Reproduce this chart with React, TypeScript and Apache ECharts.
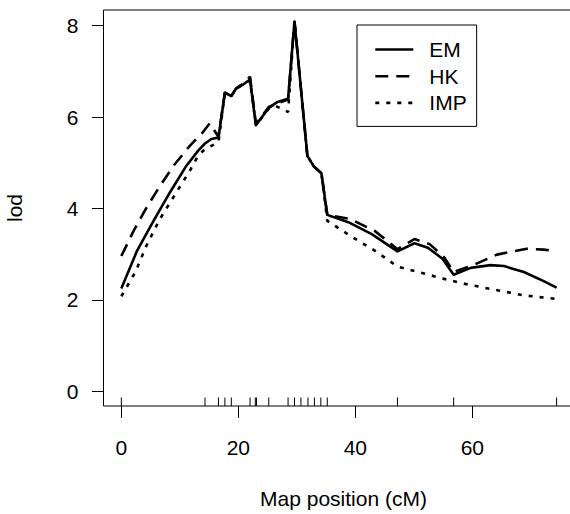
import React, { useEffect, useRef } from "react";
import * as echarts from "echarts";

// marker positions (cM) for the rug
const markerPos = [0, 14.3, 16.6, 17.7, 18.8, 22.0, 22.9, 23.1, 25.2, 28.5, 29.6, 30.7, 31.9, 33.0, 34.1, 35.2, 47.2, 56.8, 74.4];

// EM
const emPos = [0, 2.7, 5.5, 8.3, 11.1, 13.1, 14.3, 15.4, 16.6, 17.7, 18.8, 19.6, 20.7, 22.0, 23.0, 25.2, 26.7, 28.5, 29.6, 31.8, 32.9, 34.2, 35.2, 38.8, 42.8, 47.2, 50.1, 52.4, 54.9, 56.8, 59.7, 63.1, 65.4, 68.8, 72.2, 74.4];
const emLod = [2.25, 3.08, 3.73, 4.35, 4.93, 5.26, 5.42, 5.52, 5.55, 6.53, 6.46, 6.62, 6.70, 6.82, 5.82, 6.20, 6.33, 6.40, 8.09, 5.15, 4.92, 4.77, 3.86, 3.70, 3.44, 3.06, 3.24, 3.14, 2.90, 2.55, 2.70, 2.76, 2.74, 2.61, 2.41, 2.27];

// HK
const hkPos = [0, 2.1, 4.3, 6.6, 8.9, 11.7, 13.9, 15.1, 16.6, 17.7, 18.8, 19.6, 20.7, 22.0, 23.0, 25.2, 26.7, 28.5, 29.6, 31.8, 32.9, 34.2, 35.2, 39.1, 43.3, 47.2, 50.1, 52.7, 55.2, 56.8, 60.3, 64.2, 69.3, 72.2, 74.4];
const hkLod = [2.96, 3.51, 4.02, 4.49, 4.93, 5.37, 5.66, 5.86, 5.57, 6.53, 6.46, 6.62, 6.72, 6.88, 5.85, 6.22, 6.30, 6.38, 8.09, 5.15, 4.92, 4.77, 3.86, 3.77, 3.51, 3.11, 3.33, 3.22, 2.93, 2.61, 2.77, 2.99, 3.12, 3.10, 3.06];

// IMP
const impPos = [0, 2.4, 4.3, 6.6, 9.2, 11.7, 13.1, 14.3, 15.9, 16.6, 17.7, 18.8, 19.6, 20.7, 22.0, 23.0, 25.2, 26.4, 28.5, 29.6, 31.8, 32.9, 34.2, 35.2, 39.4, 43.3, 47.2, 50.7, 55.2, 58.0, 63.1, 68.8, 74.4];
const impLod = [2.08, 2.61, 3.19, 3.77, 4.31, 4.82, 5.15, 5.30, 5.40, 5.45, 6.53, 6.46, 6.62, 6.70, 6.80, 5.82, 6.18, 6.24, 6.11, 8.09, 5.15, 4.92, 4.77, 3.73, 3.38, 3.08, 2.73, 2.61, 2.46, 2.37, 2.24, 2.10, 2.02];

const xTicks = [0, 20, 40, 60];
const yTicks = [0, 2, 4, 6, 8];

const X_MIN = -3.05;
const X_MAX = 79;
const Y_MIN = -0.32;
const Y_MAX = 8.34;

const FONT = "'Liberation Sans', Arial, Helvetica, sans-serif";

const DASH_HK = [13, 8];
const DASH_IMP = [4, 7];

const zip = (xs: number[], ys: number[]) => xs.map((x, i) => [x, ys[i]]);

export default function App() {
  const ref = useRef<HTMLDivElement>(null);
  useEffect(() => {
    if (!ref.current) return;
    const chart = echarts.init(ref.current, undefined, { renderer: "svg" });
    const lineBase = { type: "line", showSymbol: false, symbol: "none", smooth: false, z: 3 };
    const legendItem = (name: string, type: any) => ({
      name,
      itemStyle: { opacity: 0, borderWidth: 0, color: "transparent" },
      lineStyle: { color: "#000", width: 2.6, type, cap: "butt", opacity: 1 },
    });
    chart.setOption({
      animation: false,
      backgroundColor: "#ffffff",
      textStyle: { fontFamily: FONT },
      grid: {
        left: 103.5,
        top: 10,
        width: 480,
        height: 396,
        outerBoundsMode: "none",
        containLabel: false,
        show: true,
        borderColor: "#000",
        borderWidth: 1,
        backgroundColor: "transparent",
      },
      legend: {
        data: [legendItem("EM", "solid"), legendItem("HK", DASH_HK), legendItem("IMP", DASH_IMP)],
        orient: "vertical",
        left: 357,
        top: 25,
        padding: [14, 10, 13, 17],
        borderColor: "#000",
        borderWidth: 1,
        itemWidth: 38,
        itemHeight: 14,
        itemGap: 5.7,
        itemStyle: { opacity: 0, borderWidth: 0 },
        textStyle: { fontSize: 21, color: "#000", fontFamily: FONT, lineHeight: 21, padding: [0, 0, 0, 11] },
        backgroundColor: "#fff",
      },
      xAxis: {
        type: "value",
        min: X_MIN,
        max: X_MAX,
        name: "Map position (cM)",
        nameLocation: "middle",
        nameGap: 82,
        nameTextStyle: { fontSize: 21, color: "#000", fontFamily: FONT },
        axisLine: { show: false, onZero: false },
        splitLine: { show: false },
        axisTick: { show: true, length: 12, inside: false, customValues: xTicks, lineStyle: { color: "#000", width: 1 } },
        axisLabel: { show: true, customValues: xTicks, margin: 31, fontSize: 21, color: "#000", fontFamily: FONT },
      },
      yAxis: {
        type: "value",
        min: Y_MIN,
        max: Y_MAX,
        name: "lod",
        nameLocation: "middle",
        nameGap: 79,
        nameRotate: 90,
        nameTextStyle: { fontSize: 21, color: "#000", fontFamily: FONT },
        axisLine: { show: false, onZero: false },
        splitLine: { show: false },
        axisTick: { show: true, length: 11.5, inside: false, customValues: yTicks, lineStyle: { color: "#000", width: 1 } },
        axisLabel: { show: true, customValues: yTicks, margin: 25, fontSize: 21, color: "#000", fontFamily: FONT },
      },
      series: [
        {
          ...lineBase,
          name: "EM",
          data: zip(emPos, emLod),
          lineStyle: { color: "#000", width: 2.6, type: "solid", join: "round" },
          itemStyle: { color: "#000" },
        },
        {
          ...lineBase,
          name: "HK",
          data: zip(hkPos, hkLod),
          lineStyle: { color: "#000", width: 2.6, type: DASH_HK, cap: "butt" },
          itemStyle: { color: "#000" },
        },
        {
          ...lineBase,
          name: "IMP",
          data: zip(impPos, impLod),
          lineStyle: { color: "#000", width: 2.6, type: DASH_IMP, cap: "butt" },
          itemStyle: { color: "#000" },
        },
        {
          type: "custom",
          name: "markers",
          data: markerPos.map((p) => [p, Y_MIN]),
          encode: { x: 0, y: 1 },
          z: 2,
          renderItem: (params: any, api: any) => {
            const pt = api.coord([api.value(0), api.value(1)]);
            return {
              type: "line",
              shape: { x1: pt[0], y1: pt[1], x2: pt[0], y2: pt[1] - 8.5 },
              style: { stroke: "#000", lineWidth: 1 },
            };
          },
        },
      ],
    });
    return () => chart.dispose();
  }, []);
  return (
    <div
      ref={ref}
      style={{ position: "absolute", left: 0, top: 0, width: 570, height: 514, overflow: "hidden" }}
    />
  );
}
